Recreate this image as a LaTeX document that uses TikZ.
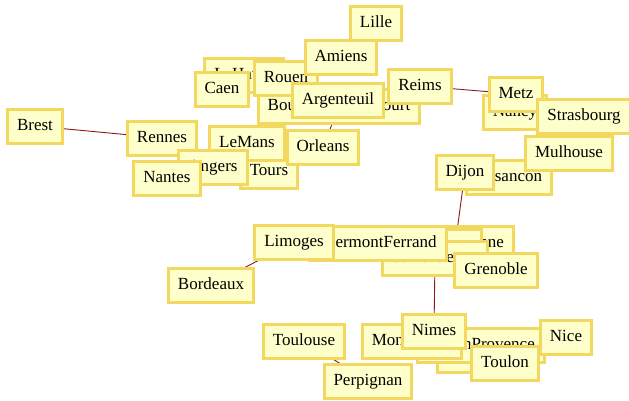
\documentclass[tikz,border=0pt]{standalone}
\usepackage{fontspec}
\setmainfont{Liberation Serif}
\definecolor{boxfill}{HTML}{FFFFCC}
\definecolor{boxline}{HTML}{F2D85E}
\definecolor{edgecol}{HTML}{8B1A1A}
\tikzset{
  city/.style={draw=boxline, line width=3pt, fill=boxfill, inner xsep=9.5pt, inner ysep=0pt,
    minimum height=34pt, text height=11pt, text depth=3pt,
    font=\fontsize{17pt}{20pt}\selectfont},
  link/.style={draw=edgecol, line width=0.9pt}
}
\begin{document}
\begin{tikzpicture}[x=1pt,y=-1pt]
\useasboundingbox (0,0) rectangle (629,400);
% coordinates for edges first (nodes drawn on top later)
\coordinate (cBrest) at (35,126);
\coordinate (cRennes) at (162,138);
\coordinate (cReims) at (420,86);
\coordinate (cMetz) at (516,94);
\coordinate (cBoul) at (339,106.5);
\coordinate (cOrleans) at (323,147);
\coordinate (cDijon) at (465,172);
\coordinate (cLyon) at (455,246);
\coordinate (cBordeaux) at (211,285);
\coordinate (cLimoges) at (294,242);
\coordinate (cToulouse) at (304,341);
\coordinate (cPerpignan) at (368,381);
\coordinate (cStEt) at (435,258.5);
\coordinate (cNimes) at (434,331);
\draw[link] (cBrest) -- (cRennes);
\draw[link] (cReims) -- (cMetz);
\draw[link] (cBoul) -- (cOrleans);
\draw[link] (cDijon) -- (cLyon);
\draw[link] (cBordeaux) -- (cLimoges);
\draw[link] (cToulouse) -- (cPerpignan);
\draw[link] (cStEt) -- (cNimes);
% north / Paris area
\node[city] (LeHavre) at (244,75) {LeHavre};
\node[city] (Caen) at (222,89) {Caen};
\node[city] (Boul) at (cBoul) {BoulogneBillancourt};
\node[city] (Rouen) at (286,78) {Rouen};
\node[city] (Amiens) at (341,57) {Amiens};
\node[city] (Lille) at (376,23) {Lille};
\node[city] (Argenteuil) at (338,100) {Argenteuil};
\node[city] (Reims) at (cReims) {Reims};
% east
\node[city] (Nancy) at (515,112) {Nancy};
\node[city] (Metz) at (cMetz) {Metz};
\node[city] (Strasbourg) at (584,116) {Strasbourg};
\node[city] (Besancon) at (509,177) {Besancon};
\node[city] (Mulhouse) at (569,153) {Mulhouse};
\node[city] (Dijon) at (cDijon) {Dijon};
% west
\node[city] (Brest) at (cBrest) {Brest};
\node[city] (Rennes) at (cRennes) {Rennes};
\node[city] (Tours) at (269,171) {Tours};
\node[city] (LeMans) at (247,143) {LeMans};
\node[city] (Angers) at (213,167) {Angers};
\node[city] (Nantes) at (167,178) {Nantes};
\node[city] (Orleans) at (cOrleans) {Orleans};
% centre
\node[city] (Villeurbanne) at (460,243) {Villeurbanne};
\node[city] (Lyon) at (cLyon) {Lyon};
\node[city] (StEt) at (cStEt) {SaintEtienne};
\node[city] (Clermont) at (378,243) {ClermontFerrand};
\node[city] (Limoges) at (cLimoges) {Limoges};
\node[city] (Grenoble) at (496,270) {Grenoble};
\node[city] (Bordeaux) at (cBordeaux) {Bordeaux};
% south
\node[city] (Toulouse) at (cToulouse) {Toulouse};
\node[city] (Perpignan) at (cPerpignan) {Perpignan};
\node[city] (Marseille) at (479,355) {Marseille};
\node[city] (Aix) at (481,345) {AixEnProvence};
\node[city] (Montpellier) at (412,341) {Montpellier};
\node[city] (Nimes) at (cNimes) {Nimes};
\node[city] (Toulon) at (505,363) {Toulon};
\node[city] (Nice) at (566,337) {Nice};
\end{tikzpicture}
\end{document}
